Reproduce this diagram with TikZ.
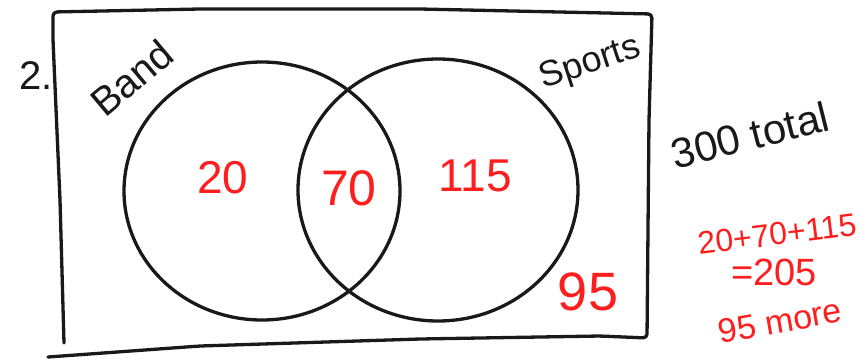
\documentclass[tikz,border=0pt]{standalone}
\usepackage{fontspec}
\setmainfont{Liberation Sans}
\usetikzlibrary{shapes.geometric,positioning}
\definecolor{penred}{RGB}{255,30,30}
\definecolor{penblack}{RGB}{25,25,25}
\tikzset{
    stroke/.style={draw=penblack, line width=3.3pt, line cap=round, line join=round},
    setring/.style={ellipse, stroke, minimum width=276pt, minimum height=258pt, inner sep=0},
    inktext/.style={text=penblack, inner sep=0, font=\fontsize{40}{42}\selectfont},
    count/.style={text=penred, inner sep=0, font=\fontsize{46}{46}\selectfont},
    note/.style={text=penred, inner sep=0, align=center, font=\fontsize{32}{34}\selectfont},
}
\begin{document}
\begin{tikzpicture}[x=1pt,y=-1pt]
    \useasboundingbox (0,0) rectangle (866,359);

    % hand-drawn frame
    \draw[stroke, rounded corners=4pt] (64,343) -- (60,200) -- (53,40) -- (53,12)
        -- (200,9) -- (420,9) -- (652,14) -- (649,120) -- (647,338) -- (600,336)
        -- (420,339) -- (200,346) -- (48,357);

    % the two sets
    \node[setring] (band) at (262,191) {};
    \node[setring, minimum width=280pt, minimum height=262pt] (sports) at (438,190) {};

    % labels
    \node[inktext] (num) at (36,76) {2.};
    \node[inktext, rotate=40] (bandlbl) at (132,78) {Band};
    \node[inktext, rotate=18, font=\fontsize{36}{38}\selectfont] (sportslbl) at (590,64) {Sports};
    \node[inktext, rotate=14, font=\fontsize{42}{44}\selectfont] (total) at (750,135) {300 total};

    % counts
    \node[count] (onlyband) at (223,178) {20};
    \node[count, font=\fontsize{50}{50}\selectfont] (both) at (349,188) {70};
    \node[count] (onlysports) at (475,176) {115};
    \node[count, font=\fontsize{54}{54}\selectfont] (neither) at (588,292) {95};

    % working
    \node[note, rotate=7] (sum) at (777,234) {20+70+115};
    \node[note, font=\fontsize{38}{38}\selectfont] (result) at (774,272) {=205};
    \node[note, rotate=10, font=\fontsize{34}{34}\selectfont] (more) at (780,321) {95 more};
\end{tikzpicture}
\end{document}
